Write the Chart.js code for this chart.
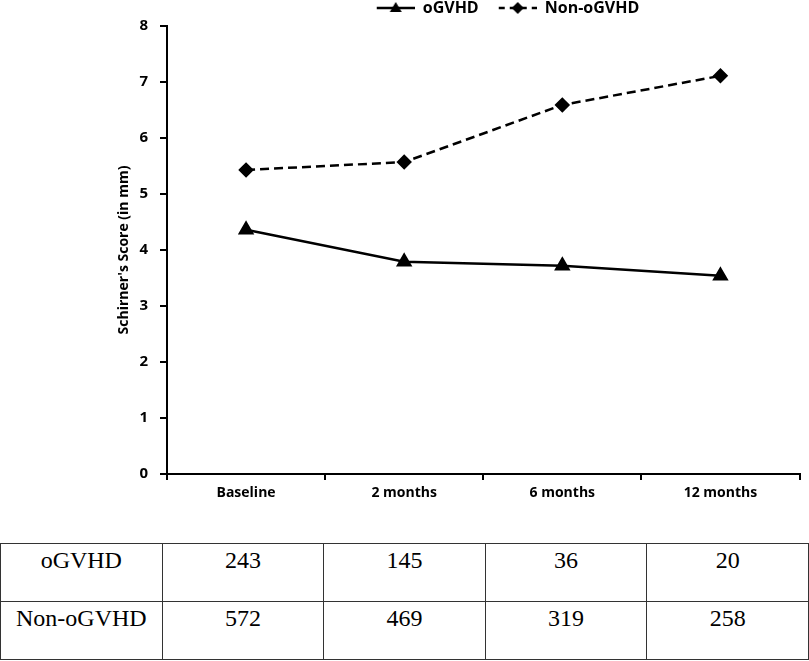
<!DOCTYPE html>
<html><head><meta charset="utf-8">
<script src="https://cdn.jsdelivr.net/npm/chart.js@4/dist/chart.umd.min.js"></script>
<style>
html,body{margin:0;padding:0;background:#fff;}
#wrap{position:relative;width:809px;height:661px;overflow:hidden;}
#c{position:absolute;left:0;top:0;}
table{position:absolute;left:0;top:543px;border-collapse:collapse;width:809px;table-layout:fixed;font-family:"Liberation Serif","Times New Roman",serif;font-size:24px;color:#000;}
td{border:1px solid #333;height:58px;text-align:center;vertical-align:top;padding:2px 0 0 0;box-sizing:border-box;line-height:28px;}
</style></head>
<body><div id="wrap"><canvas id="c" width="809" height="530"></canvas><table id="t"></table></div>
<script>
const categories = ['Baseline', '2 months', '6 months', '12 months'];
const seriesNames = ['oGVHD', 'Non-oGVHD'];
const oGVHD = [4.36, 3.79, 3.72, 3.54];
const nonOGVHD = [5.43, 5.57, 6.59, 7.11];
const yTickValues = [0, 1, 2, 3, 4, 5, 6, 7, 8];
const yTitle = "Schirner's Score (in mm)";
const nOGVHD = [243, 145, 36, 20];
const nNonOGVHD = [572, 469, 319, 258];

// table built from arrays
const tbl = document.getElementById('t');
[[seriesNames[0], nOGVHD], [seriesNames[1], nNonOGVHD]].forEach(([name, vals]) => {
  const tr = document.createElement('tr');
  const th = document.createElement('td'); th.textContent = name; tr.appendChild(th);
  vals.forEach(v => { const td = document.createElement('td'); td.textContent = v; tr.appendChild(td); });
  tbl.appendChild(tr);
});

// legend sample: transparent lead-in (item spacing) + line with marker
function sample(dashed, marker) {
  const cv = document.createElement('canvas');
  cv.width = 58; cv.height = 14;
  const x = cv.getContext('2d');
  x.strokeStyle = '#000'; x.fillStyle = '#000'; x.lineWidth = 2.5;
  if (dashed) x.setLineDash([6, 5]);
  x.beginPath(); x.moveTo(20, 7); x.lineTo(58, 7); x.stroke();
  x.setLineDash([]);
  x.beginPath();
  if (marker === 'tri') { x.moveTo(39, 1); x.lineTo(45, 11); x.lineTo(33, 11); }
  else { x.moveTo(39, 1); x.lineTo(45, 7); x.lineTo(39, 13); x.lineTo(33, 7); }
  x.closePath(); x.fill();
  return cv;
}
const legendImgs = [sample(false, 'tri'), sample(true, 'dia')];

const shiftLegend = {
  id: 'shiftLegend',
  afterLayout(chart) {
    const lg = chart.legend;
    const dx = 498 - (lg.left + lg.right) / 2;
    lg.left += dx; lg.right += dx;
  }
};

const FONT = '"Open Sans", Lato, sans-serif';
new Chart(document.getElementById('c'), {
  type: 'line',
  data: {
    labels: categories,
    datasets: [
      { label: seriesNames[0], data: oGVHD, borderColor: '#000', backgroundColor: '#000', borderWidth: 2.5,
        pointStyle: 'triangle', pointRadius: 7, pointBackgroundColor: '#000', pointBorderColor: '#000', tension: 0 },
      { label: seriesNames[1], data: nonOGVHD, borderColor: '#000', backgroundColor: '#000', borderWidth: 2.5, borderDash: [9, 5],
        pointStyle: 'rectRot', pointRadius: 6, pointBackgroundColor: '#000', pointBorderColor: '#000', tension: 0 }
    ]
  },
  options: {
    responsive: false,
    animation: false,
    layout: { padding: { left: 0, right: 2, top: 0, bottom: 0 } },
    plugins: {
      tooltip: { enabled: false },
      legend: {
        position: 'top',
        labels: {
          usePointStyle: true,
          pointStyleWidth: 58,
          padding: 0,
          color: '#000',
          font: { family: FONT, size: 16, weight: 'bold' },
          generateLabels(chart) {
            return chart.data.datasets.map((ds, i) => ({
              text: ds.label, pointStyle: legendImgs[i], datasetIndex: i,
              fillStyle: '#000', strokeStyle: '#000', lineWidth: 0, fontColor: '#000'
            }));
          }
        }
      }
    },
    scales: {
      x: {
        type: 'category',
        offset: true,
        afterFit(s) { s.height = 56; },
        border: { display: true, color: '#000', width: 2 },
        grid: { display: true, offset: true, drawOnChartArea: false, drawTicks: true, tickLength: 6, color: '#000', lineWidth: 2 },
        ticks: { color: '#000', padding: 5, font: { family: FONT, size: 14, weight: 'bold' }, maxRotation: 0 }
      },
      y: {
        min: 0, max: 8,
        afterFit(s) { s.width = 167; },
        afterBuildTicks(s) { s.ticks = yTickValues.map(v => ({ value: v })); },
        border: { display: true, color: '#000', width: 2 },
        grid: { display: true, drawOnChartArea: false, drawTicks: true, tickLength: 7, color: '#000', lineWidth: 2 },
        ticks: { color: '#000', padding: 12, font: { family: FONT, size: 15, weight: 'bold' } },
        title: { display: true, text: yTitle, color: '#000', padding: { top: 116, bottom: 0 }, font: { family: FONT, size: 14, weight: 'bold' } }
      }
    }
  },
  plugins: [shiftLegend]
});
</script>
</body></html>
